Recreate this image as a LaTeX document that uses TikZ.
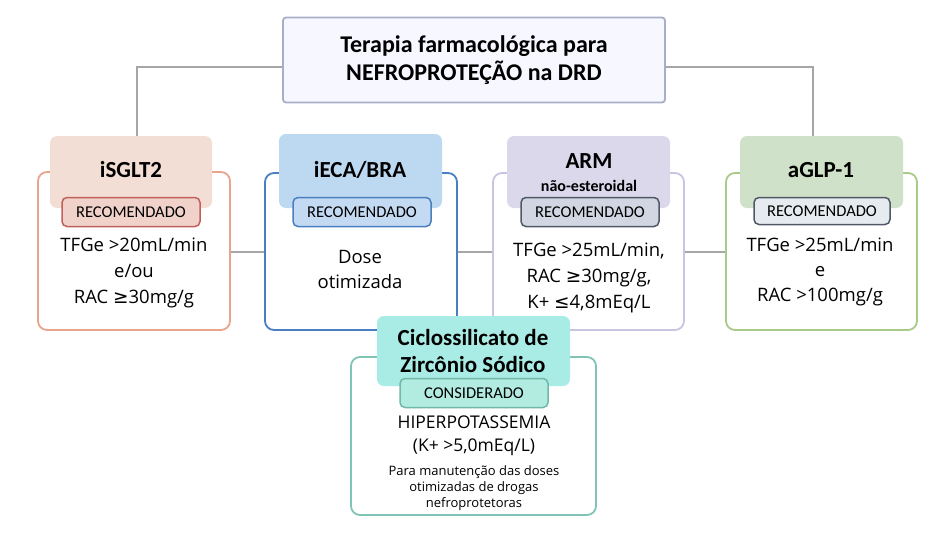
\documentclass[tikz,border=0pt]{standalone}
\usepackage{fontspec}
\setmainfont{Open Sans}
\newfontfamily\hd{Carlito}
\newfontfamily\sym{DejaVu Sans}
\begin{document}
\begin{tikzpicture}[x=1pt,y=-1pt,
 outer/.style={draw,line width=1.8pt,rounded corners=9pt,fill=white},
 head/.style={rounded corners=7pt,draw=none},
 badge/.style={line width=1.5pt,rounded corners=5pt},
 conn/.style={draw=gray!70,line width=1.5pt},
 bt/.style={font=\hd\bfseries\fontsize{23}{26}\selectfont,align=center},
 bdg/.style={font=\hd\fontsize{16.5}{18}\selectfont},
 body/.style={font=\fontsize{18.5}{25}\selectfont,align=center}]
\useasboundingbox (0,0) rectangle (948,535);
\definecolor{sa}{HTML}{E8A48C}\definecolor{sah}{HTML}{F3DED6}\definecolor{sab}{HTML}{F0D2CB}\definecolor{sabd}{HTML}{C0605A}
\definecolor{bl}{HTML}{4A7FC0}\definecolor{blh}{HTML}{BDD8F1}\definecolor{blb}{HTML}{C3DAF2}
\definecolor{pu}{HTML}{CBC3E2}\definecolor{puh}{HTML}{DCD8EC}\definecolor{pub}{HTML}{D2D6E2}\definecolor{pubd}{HTML}{505868}
\definecolor{gr}{HTML}{A8CC88}\definecolor{grh}{HTML}{CFE1C9}\definecolor{grb}{HTML}{E5EBEF}
\definecolor{te}{HTML}{80C4B8}\definecolor{teh}{HTML}{A9ECE5}\definecolor{teb}{HTML}{B2ECE1}\definecolor{tebd}{HTML}{70B8A8}
\definecolor{tb}{HTML}{A8AEC8}
% connectors
\coordinate (cl) at (137,67); \coordinate (cr) at (813,67);
\draw[conn] (137,140) -- (cl) -- (cr) -- (813,140);
\draw[conn] (230,252) -- (265,252);
\draw[conn] (457,252) -- (493,252);
\draw[conn] (684,252) -- (726,252);
% title
\node[draw=tb,line width=1.8pt,fill=blue!3,rounded corners=3pt,minimum width=382pt,minimum height=85pt,font=\hd\bfseries\fontsize{24}{28}\selectfont,align=center] (title) at (474,60) {Terapia farmacológica para\\NEFROPROTEÇÃO na DRD};
% iSGLT2
\draw[outer,draw=sa] (38,172) rectangle (230,330);
\fill[head,sah] (50,136) rectangle (212,208);
\node[bt] (h1) at (131,170) {iSGLT2};
\node[badge,draw=sabd,fill=sab,minimum width=138pt,minimum height=29pt,bdg] (b1) at (131,212) {RECOMENDADO};
\node[body] (t1) at (134,273) {TFGe >20mL/min\\[1pt] e/ou\\[1pt] RAC {\sym ≥}30mg/g};
% iECA
\draw[outer,draw=bl] (265,173) rectangle (457,330);
\fill[head,blh] (279,134) rectangle (442,208);
\node[bt] (h2) at (360,170) {iECA/BRA};
\node[badge,draw=bl,fill=blb,minimum width=138pt,minimum height=29pt,bdg] (b2) at (362,212) {RECOMENDADO};
\node[body] (t2) at (360,269) {Dose\\[0pt] otimizada};
% ARM
\draw[outer,draw=pu] (493,173) rectangle (684,330);
\fill[head,puh] (507,136) rectangle (670,208);
\node[bt] (h3) at (589,161) {ARM};
\node[font=\hd\bfseries\fontsize{16}{18}\selectfont] (h3b) at (589,186) {não-esteroidal};
\node[badge,draw=pubd,fill=pub,minimum width=138pt,minimum height=29pt,bdg] (b3) at (590,212) {RECOMENDADO};
\node[body] (t3) at (589,278) {TFGe >25mL/min,\\[1pt] RAC {\sym ≥}30mg/g,\\[1pt] K+ {\sym ≤}4,8mEq/L};
% aGLP-1
\draw[outer,draw=gr] (726,173) rectangle (917,330);
\fill[head,grh] (740,136) rectangle (903,208);
\node[bt] (h4) at (821,170) {aGLP-1};
\node[badge,draw=pubd,fill=grb,minimum width=136pt,minimum height=27pt,bdg] (b4) at (822,211) {RECOMENDADO};
\node[body] (t4) at (820,272) {TFGe >25mL/min\\[0pt] e\\[0pt] RAC >100mg/g};
% Ciclossilicato
\draw[outer,draw=te] (351,357) rectangle (596,515);
\fill[head,teh] (377,316) rectangle (570,386);
\node[bt,font=\hd\bfseries\fontsize{23}{27}\selectfont] (h5) at (473,351) {Ciclossilicato de\\Zircônio Sódico};
\node[badge,draw=tebd,fill=teb,minimum width=148pt,minimum height=29pt,bdg] (b5) at (474,393) {CONSIDERADO};
\node[font=\fontsize{17.5}{23}\selectfont,align=center] (t5) at (474,436) {HIPERPOTASSEMIA\\[0pt](K+ >5,0mEq/L)};
\node[font=\fontsize{13}{16}\selectfont,align=center] (t6) at (474,488) {Para manutenção das doses\\[0pt]otimizadas de drogas\\[0pt]nefroprotetoras};
\end{tikzpicture}
\end{document}
